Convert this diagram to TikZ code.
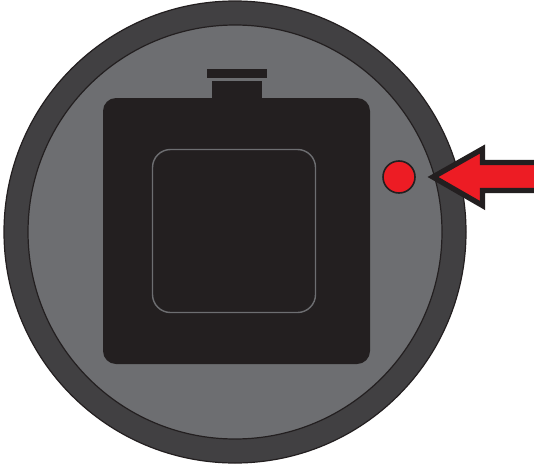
\documentclass[tikz,border=0pt]{standalone}
\usetikzlibrary{calc}
\definecolor{cdark}{HTML}{414042}
\definecolor{cgrey}{HTML}{6D6E71}
\definecolor{cblack}{HTML}{231F20}
\definecolor{cred}{HTML}{ED1C24}
\tikzset{
  every picture/.style={line width=1.2pt},
  disc/.style={draw=cblack, fill=#1},
  disc/.default=cdark,
  bodyshape/.style={fill=cblack},
  window/.style={draw=cgrey, rounded corners=18pt, line width=1.4pt},
  marker/.style={draw=cblack, fill=cred, line width=1.6pt},
  pointer/.style={draw=cblack, fill=cred, line width=5.4pt, miter limit=10},
}
\begin{document}
\begin{tikzpicture}[x=1pt, y=-1pt]
  \useasboundingbox (0,0) rectangle (534,468);
  % housing
  \path[disc] (235,232) circle (231);
  \path[disc=cgrey] (235,232) circle (207);
  % flat body with neck and cap
  \fill[bodyshape, rounded corners=13pt] (103,98) rectangle (370,364);
  \fill[bodyshape] (211.5,81) rectangle (262,99);
  \fill[bodyshape] (207,69.5) rectangle (266.5,78.5);
  \draw[window] (152.5,149.5) rectangle (315.5,312.5);
  % indicator
  \path[marker] (399,177) circle (16);
  \path[pointer] (433,177) -- (482.5,149) -- (482.5,162.5) -- (540,162.5) -- (540,190.5) -- (482.5,190.5) -- (482.5,205.5) -- cycle;
\end{tikzpicture}
\end{document}
